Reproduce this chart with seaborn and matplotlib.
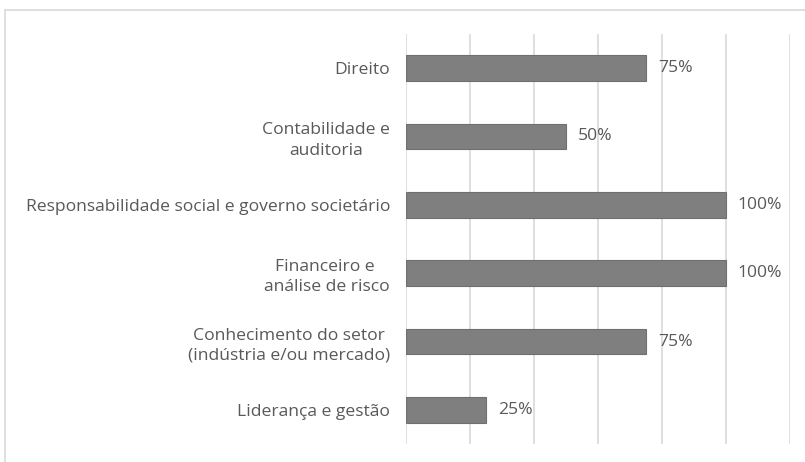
import pandas as pd
import seaborn as sns
from matplotlib import pyplot as plt
from matplotlib.lines import Line2D

# ========================================================
# data

categorias = [
    "Direito",
    "Contabilidade e\nauditoria",
    "Responsabilidade social e governo societário",
    "Financeiro e \nanálise de risco",
    "Conhecimento do setor\n(indústria e/ou mercado)",
    "Liderança e gestão",
]
percentagens = [75, 50, 100, 100, 75, 25]

# ========================================================
sns.set_theme(style="white")
plt.rcParams["font.family"] = ["Open Sans", "DejaVu Sans"]

txtColor = "#595959"
barColor = "#7f7f7f"
gridColor = "#d9d9d9"
fs = 12.6

df = pd.DataFrame({"cat": categorias, "pct": percentagens})

fig = plt.figure(figsize=(8.05, 4.62), dpi=100)
ax = fig.add_axes([406 / 805, 1 - 444 / 462, (790 - 406) / 805, (444 - 34) / 462])

sns.barplot(data=df, y="cat", x="pct", ax=ax, color=barColor, width=0.38,
            edgecolor="#6f6f6f", linewidth=0.8, saturation=1)

ax.set_xlim(0, 120)
ax.set_xticks(range(0, 121, 20))
ax.xaxis.grid(True, color=gridColor, linewidth=1.2)
ax.set_axisbelow(True)
ax.set_xticklabels([])
ax.tick_params(axis="x", length=0)
ax.tick_params(axis="y", length=0, pad=11.5, labelsize=fs, labelcolor=txtColor)
for lbl in ax.get_yticklabels():
    lbl.set_multialignment("center")
    lbl.set_linespacing(1.35)
for s in ax.spines.values():
    s.set_visible(False)
ax.set_xlabel("")
ax.set_ylabel("")

for i, v in enumerate(percentagens):
    ax.text(v + 3.7, i, f"{v}%", va="center", ha="left",
            fontsize=fs, color=txtColor)

# chart border (Excel-like frame)
fig.add_artist(Line2D([5 / 805, 5 / 805], [0, 1 - 10 / 462],
                      color=gridColor, linewidth=1.2))
fig.add_artist(Line2D([5 / 805, 1], [1 - 10 / 462, 1 - 10 / 462],
                      color=gridColor, linewidth=1.2))

plt.savefig("out.png", dpi=100)
